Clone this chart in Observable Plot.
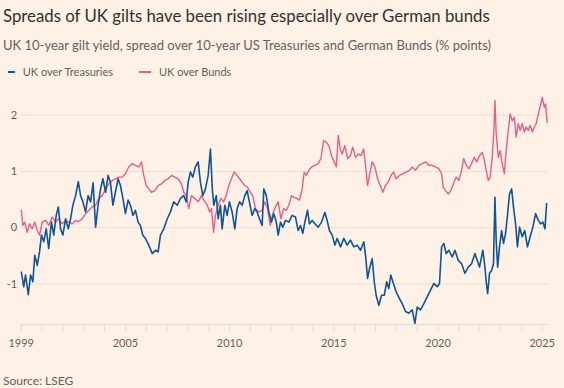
<!DOCTYPE html>
<html>
<head>
<meta charset="utf-8">
<script src="https://cdn.jsdelivr.net/npm/d3@7"></script>
<script src="https://cdn.jsdelivr.net/npm/@observablehq/plot@0.6"></script>
<style>
  html, body { margin:0; padding:0; background:#fff1e5; width:564px; height:388px; overflow:hidden; }
  body { position:relative; font-family: Lato, "Noto Sans", sans-serif; }
  .t { position:absolute; white-space:nowrap; line-height:1; }
  #title { left:3px; top:7.6px; font-size:16.8px; color:#33302e; }
  #subtitle { left:3px; top:38.9px; font-size:13px; color:#66605c; }
  .leg { top:65.8px; font-size:11px; color:#66605c; }
  .sw { position:absolute; top:71px; height:1.5px; }
  #source { left:3px; top:375px; font-size:12px; color:#66605c; }
  #chart { position:absolute; left:0; top:82px; }
</style>
</head>
<body>
<div class="t" id="title">Spreads of UK gilts have been rising especially over German bunds</div>
<div class="t" id="subtitle">UK 10-year gilt yield, spread over 10-year US Treasuries and German Bunds (% points)</div>
<div class="sw" style="left:8px;width:7px;background:#0f5499"></div>
<div class="t leg" style="left:22.7px">UK over Treasuries</div>
<div class="sw" style="left:138.5px;width:12.5px;background:#e95d8c"></div>
<div class="t leg" style="left:159px">UK over Bunds</div>
<div id="chart"></div>
<div class="t" id="source">Source: LSEG</div>
<script>
const seriesNames = ["UK over Treasuries", "UK over Bunds"];
const seriesColors = ["#0f5499", "#e95d8c"];

const ustYears = [2000.01,2000.12,2000.21,2000.34,2000.45,2000.56,2000.65,2000.77,2000.88,2000.97,2001.08,2001.20,2001.32,2001.45,2001.56,2001.68,2001.78,2001.89,2002.00,2002.13,2002.26,2002.37,2002.48,2002.61,2002.74,2002.85,2002.96,2003.09,2003.21,2003.33,2003.45,2003.57,2003.69,2003.81,2003.92,2004.05,2004.17,2004.28,2004.40,2004.52,2004.65,2004.76,2004.88,2005.00,2005.13,2005.24,2005.36,2005.48,2005.61,2005.72,2005.83,2005.96,2006.12,2006.29,2006.44,2006.57,2006.68,2006.84,2007.01,2007.16,2007.32,2007.49,2007.64,2007.80,2007.92,2008.01,2008.12,2008.23,2008.36,2008.49,2008.60,2008.71,2008.84,2008.97,2009.08,2009.17,2009.24,2009.36,2009.45,2009.56,2009.64,2009.77,2009.88,2009.99,2010.12,2010.25,2010.36,2010.48,2010.60,2010.73,2010.84,2010.95,2011.08,2011.21,2011.32,2011.43,2011.56,2011.64,2011.76,2011.88,2012.01,2012.12,2012.24,2012.33,2012.44,2012.55,2012.68,2012.84,2013.00,2013.16,2013.29,2013.40,2013.51,2013.61,2013.74,2013.83,2013.96,2014.09,2014.25,2014.41,2014.57,2014.68,2014.79,2014.92,2015.05,2015.16,2015.32,2015.48,2015.64,2015.80,2015.96,2016.12,2016.28,2016.44,2016.52,2016.62,2016.71,2016.84,2016.94,2017.03,2017.16,2017.29,2017.42,2017.54,2017.64,2017.73,2017.86,2017.99,2018.15,2018.28,2018.44,2018.60,2018.76,2018.89,2019.00,2019.16,2019.32,2019.48,2019.64,2019.80,2019.96,2020.07,2020.17,2020.28,2020.39,2020.52,2020.68,2020.81,2020.97,2021.13,2021.29,2021.45,2021.61,2021.77,2021.88,2021.99,2022.15,2022.25,2022.31,2022.38,2022.47,2022.57,2022.66,2022.73,2022.79,2022.86,2022.95,2023.05,2023.14,2023.24,2023.34,2023.43,2023.53,2023.62,2023.72,2023.81,2023.91,2024.04,2024.16,2024.29,2024.42,2024.55,2024.68,2024.81,2024.92,2025.03,2025.13,2025.21];
const ustValues = [-0.79,-1.05,-0.84,-1.19,-0.84,-0.96,-0.49,-0.67,-0.43,-0.13,-0.25,-0.02,-0.37,0.10,-0.13,0.22,0.37,-0.02,-0.13,0.16,-0.02,0.16,0.40,0.57,0.82,0.57,0.46,0.28,0.57,0.46,0.80,0.01,0.40,0.69,0.87,0.63,0.93,0.81,0.40,0.63,0.87,0.75,0.52,0.25,0.49,0.40,0.22,0.31,0.10,0.04,-0.13,-0.19,-0.31,-0.46,-0.40,-0.43,-0.13,-0.02,0.16,0.28,0.46,0.40,0.52,0.57,0.46,0.81,0.99,0.90,1.08,1.17,0.81,0.57,0.69,0.93,1.40,0.69,0.40,0.57,0.16,0.40,-0.02,0.40,0.22,0.46,0.28,-0.02,0.34,0.46,0.40,0.57,0.66,0.46,0.22,0.34,0.28,0.16,0.04,0.69,0.57,0.28,0.10,0.25,0.10,-0.13,0.10,0.01,0.13,0.10,0.22,0.19,-0.05,0.04,-0.10,0.10,0.31,0.07,0.13,0.07,0.01,0.10,0.27,0.13,-0.05,-0.13,-0.31,-0.19,-0.34,-0.19,-0.31,-0.22,-0.34,-0.31,-0.40,-0.25,-0.49,-0.90,-0.73,-0.55,-0.96,-1.20,-1.38,-1.20,-1.20,-0.96,-1.08,-0.84,-0.99,-1.14,-1.26,-1.35,-1.49,-1.52,-1.46,-1.70,-1.41,-1.46,-1.35,-1.23,-1.11,-0.99,-1.05,-0.99,-0.34,-0.28,-0.46,-0.40,-0.52,-0.40,-0.58,-0.64,-0.81,-0.70,-0.64,-0.46,-0.58,-0.70,-0.40,-0.70,-0.96,-1.17,-0.81,-0.76,-0.64,0.54,-0.22,-0.70,-0.34,-0.05,-0.28,-0.10,0.25,0.60,0.69,0.37,0.07,-0.34,0.01,-0.16,-0.05,-0.34,-0.16,0.01,0.25,0.13,0.07,0.10,-0.02,0.43];

const bundYears = [2000.01,2000.08,2000.17,2000.29,2000.40,2000.53,2000.65,2000.77,2000.88,2001.01,2001.17,2001.32,2001.49,2001.65,2001.80,2001.97,2002.13,2002.28,2002.45,2002.61,2002.76,2002.93,2003.09,2003.24,2003.41,2003.57,2003.72,2003.89,2004.05,2004.20,2004.37,2004.52,2004.68,2004.85,2005.00,2005.16,2005.33,2005.48,2005.64,2005.77,2005.88,2006.00,2006.12,2006.25,2006.41,2006.57,2006.73,2006.89,2007.05,2007.21,2007.37,2007.53,2007.69,2007.80,2007.92,2008.04,2008.17,2008.33,2008.49,2008.65,2008.81,2008.93,2009.04,2009.13,2009.23,2009.32,2009.45,2009.58,2009.71,2009.84,2009.96,2010.09,2010.22,2010.35,2010.48,2010.60,2010.73,2010.86,2010.99,2011.11,2011.24,2011.40,2011.56,2011.69,2011.82,2011.95,2012.07,2012.20,2012.33,2012.46,2012.59,2012.72,2012.84,2012.97,2013.10,2013.22,2013.35,2013.48,2013.58,2013.68,2013.80,2013.93,2014.09,2014.25,2014.38,2014.51,2014.64,2014.76,2014.89,2015.02,2015.12,2015.21,2015.31,2015.40,2015.53,2015.66,2015.79,2015.91,2016.04,2016.17,2016.30,2016.43,2016.52,2016.62,2016.71,2016.84,2016.97,2017.10,2017.23,2017.35,2017.48,2017.61,2017.74,2017.87,2017.99,2018.15,2018.31,2018.47,2018.63,2018.76,2018.92,2019.08,2019.24,2019.40,2019.56,2019.72,2019.88,2020.04,2020.17,2020.25,2020.36,2020.49,2020.61,2020.74,2020.87,2021.00,2021.13,2021.23,2021.35,2021.48,2021.61,2021.74,2021.86,2021.99,2022.12,2022.22,2022.31,2022.41,2022.50,2022.60,2022.68,2022.73,2022.79,2022.89,2022.98,2023.08,2023.18,2023.27,2023.37,2023.46,2023.56,2023.66,2023.75,2023.85,2023.94,2024.04,2024.14,2024.23,2024.33,2024.42,2024.52,2024.62,2024.71,2024.81,2024.91,2025.00,2025.10,2025.16,2025.24];
const bundValues = [0.31,0.04,0.10,-0.08,0.07,-0.02,0.10,-0.05,-0.13,0.10,0.13,0.04,0.19,0.10,0.16,0.07,0.13,0.10,0.07,0.13,0.11,0.16,0.25,0.31,0.37,0.40,0.52,0.57,0.69,0.78,0.84,0.87,0.90,0.90,0.96,1.08,1.14,1.11,1.08,1.17,0.93,0.75,0.69,0.63,0.66,0.75,0.78,0.84,0.87,0.93,0.90,0.87,0.78,0.63,0.57,0.34,0.57,0.52,0.46,0.57,0.46,0.40,0.28,0.34,-0.08,0.22,0.40,0.52,0.46,0.57,0.75,0.87,0.99,0.93,0.87,0.81,0.75,0.72,0.63,0.57,0.34,0.28,0.31,0.46,0.34,0.04,0.25,0.37,0.46,0.16,0.34,0.31,0.40,0.57,0.54,0.52,0.49,0.69,0.99,0.93,1.02,1.08,1.11,1.14,1.23,1.55,1.52,1.46,1.28,1.17,1.08,1.64,1.40,1.31,1.46,1.23,1.28,1.43,1.25,1.31,1.28,1.40,1.11,0.75,0.93,1.17,1.08,0.87,0.75,0.63,0.75,0.81,0.93,0.99,0.87,0.93,0.96,0.99,1.02,1.08,1.02,1.11,1.14,1.17,1.11,1.11,1.08,1.05,0.96,0.72,0.66,0.60,0.66,0.78,0.90,0.84,1.02,1.23,1.11,1.05,1.14,1.25,1.17,1.28,1.34,1.20,1.02,0.84,0.90,1.25,1.73,2.26,1.67,1.25,1.37,1.14,0.96,1.37,1.73,2.02,1.90,1.96,1.61,1.85,1.73,1.85,1.70,1.79,1.73,1.82,1.70,1.79,1.85,2.02,2.17,2.32,2.14,2.20,1.87];

const xTickYears = [2000,2001,2002,2003,2004,2005,2006,2007,2008,2009,2010,2011,2012,2013,2014,2015,2016,2017,2018,2019,2020,2021,2022,2023,2024,2025];
const xLabelYears = [2000, 2005, 2010, 2015, 2020, 2025];
const xLabels = ["1999", "2005", "2010", "2015", "2020", "2025"];
const yTicks = [-1, 0, 1, 2];
const xDomain = [2000, 2025.3];
const yDomain = [-1.72, 2.35];

const ust = ustYears.map((t, i) => ({t, v: ustValues[i], s: seriesNames[0]}));
const bund = bundYears.map((t, i) => ({t, v: bundValues[i], s: seriesNames[1]}));
const labelMap = new Map(xLabelYears.map((y, i) => [y, xLabels[i]]));

const chart = Plot.plot({
  width: 564,
  height: 275,
  marginLeft: 20.7,
  marginRight: 16,
  marginTop: 13,
  marginBottom: 33,
  style: {background: "transparent", fontFamily: "Lato, 'Noto Sans', sans-serif", fontSize: "11px", color: "#66605c"},
  x: {domain: xDomain, label: null},
  y: {domain: yDomain, label: null},
  marks: [
    Plot.gridY(yTicks, {stroke: "#eedfd2", strokeOpacity: 1}),
    Plot.ruleY([yDomain[0]], {stroke: "#e6d8cc"}),
    Plot.axisX(xTickYears, {label: null, tickSize: 7, tickPadding: 8, stroke: "#e6d8cc", tickFormat: y => labelMap.get(y) ?? "", fontSize: 11}),
    Plot.axisY(yTicks, {label: null, anchor: "left", tickSize: 0, tickPadding: 4, tickFormat: d => String(d), fontSize: 11}),
    Plot.lineY(bund, {x: "t", y: "v", stroke: seriesColors[1], strokeWidth: 1.4}),
    Plot.lineY(ust, {x: "t", y: "v", stroke: seriesColors[0], strokeWidth: 1.6})
  ]
});
document.getElementById("chart").appendChild(chart);
</script>
</body>
</html>
